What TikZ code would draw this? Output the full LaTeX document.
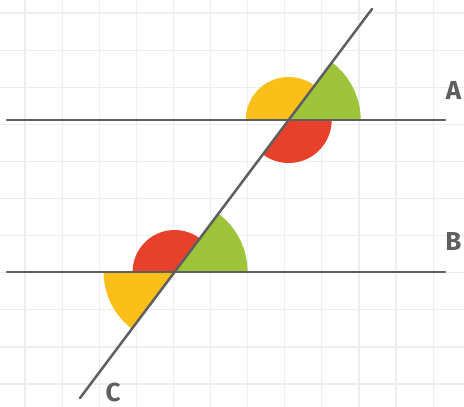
\documentclass[tikz,border=0pt]{standalone}
\usepackage{fontspec}
\setmainfont{Fira Sans}
\definecolor{gridc}{HTML}{EEEEEE}
\definecolor{linec}{HTML}{5F5F5F}
\definecolor{yel}{HTML}{FBBF1A}
\definecolor{grn}{HTML}{9DC43A}
\definecolor{redc}{HTML}{E8412B}
\tikzset{
  gridline/.style={gridc, line width=1.2pt},
  mainline/.style={linec, line width=2.5pt, line cap=round},
  lbl/.style={text=linec, font=\bfseries\fontsize{26}{26}\selectfont, inner sep=0pt},
}
\begin{document}
\begin{tikzpicture}[x=1pt,y=-1pt]
\useasboundingbox (0,0) rectangle (464,407);
\fill[white] (0,0) rectangle (464,407);
% grid
\foreach \i in {0,...,11} { \draw[gridline] ({25+37.1*\i},0) -- ({25+37.1*\i},407); }
\foreach \j in {0,...,10} { \draw[gridline] (0,{13+37.1*\j}) -- (464,{13+37.1*\j}); }
% intersections
\coordinate (P) at (288.7,120);
\coordinate (Q) at (174.6,272);
% sectors at P
\fill[yel] (P) -- ++(-53.1:43) arc[start angle=-53.1, end angle=-180, radius=43] -- cycle;
\fill[grn] (P) -- ++(0:72) arc[start angle=0, end angle=-53.1, radius=72] -- cycle;
\fill[redc] (P) -- ++(126.9:43) arc[start angle=126.9, end angle=0, radius=43] -- cycle;
% sectors at Q
\fill[redc] (Q) -- ++(-53.1:42) arc[start angle=-53.1, end angle=-180, radius=42] -- cycle;
\fill[grn] (Q) -- ++(0:73) arc[start angle=0, end angle=-53.1, radius=73] -- cycle;
\fill[yel] (Q) -- ++(180:71) arc[start angle=180, end angle=126.9, radius=71] -- cycle;
% lines
\coordinate (A1) at (7,120); \coordinate (A2) at (445,120);
\coordinate (B1) at (7,272); \coordinate (B2) at (445,272);
\coordinate (C1) at (372,9); \coordinate (C2) at (80,398);
\draw[mainline] (A1) -- (A2);
\draw[mainline] (B1) -- (B2);
\draw[mainline] (C1) -- (C2);
\node[lbl] (la) at (453.5,90) {A};
\node[lbl] (lb) at (453.5,241) {B};
\node[lbl] (lc) at (113,392) {C};
\end{tikzpicture}
\end{document}
